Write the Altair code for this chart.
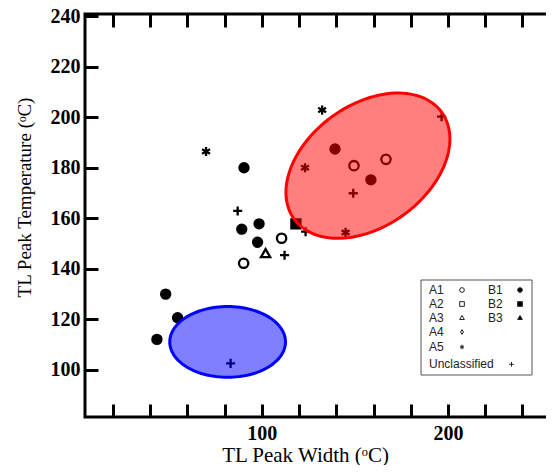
import altair as alt
import pandas as pd
import numpy as np

# ---------------- data ----------------
b1_x = [90.4, 98.5, 89.2, 97.7, 48.3, 54.7, 43.6, 139.3, 158.6]
b1_y = [180.0, 157.8, 155.7, 150.5, 130.0, 120.7, 112.1, 187.4, 175.2]
a1_x = [149.5, 166.7, 110.6, 90.2]
a1_y = [180.8, 183.3, 152.1, 142.2]
a3_x = [102.0]
a3_y = [146.2]
b2_x = [118.3]
b2_y = [157.8]
a5_x = [132.4, 70.0, 123.2, 145.0]
a5_y = [202.8, 186.4, 180.0, 154.4]
un_x = [87.0, 112.2, 123.5, 149.1, 196.6, 83.2]
un_y = [162.9, 145.4, 154.7, 169.9, 200.2, 102.6]

groups = ["A1", "A2", "A3", "A4", "A5", "Unclassified", "B1", "B2", "B3"]

# ellipse regions: centre and two conjugate semi-axis vectors (data units)
red_centre = (157.0, 180.8)
red_u = (39.7, 21.1)
red_v = (-19.1, 19.5)
blue_centre = (81.6, 111.1)
blue_u = (31.1, 0.0)
blue_v = (0.0, 14.0)

x_ticks = list(range(20, 241, 20))
y_ticks = list(range(100, 241, 20))

# ---------------- layout ----------------
XMIN, XMAX, YMIN, YMAX = 4.95, 257.0, 81.4, 240.8
W, H = 469, 403
PL, PT = 77, 6

def px2x(px):
    return XMIN + (px - 85) * (XMAX - XMIN) / W

def py2y(py):
    return YMAX - (py - 14) * (YMAX - YMIN) / H

xs = alt.Scale(domain=[XMIN, XMAX], nice=False, zero=False)
ys = alt.Scale(domain=[YMIN, YMAX], nice=False, zero=False)

shape_map = {
    "A1": "circle", "A2": "square", "A3": "triangle-up",
    "A4": "M0,-1L0.6,0L0,1L-0.6,0Z",
    "A5": "M0,-1L0,1M-0.866,-0.5L0.866,0.5M-0.866,0.5L0.866,-0.5",
    "Unclassified": "M-1,0L1,0M0,-1L0,1",
    "B1": "circle", "B2": "square", "B3": "triangle-up",
}
fill_map = {g: ("black" if g.startswith("B") else "transparent") for g in groups}
size_main = {"A1": 88, "A2": 80, "A3": 150, "A4": 80, "A5": 150,
             "Unclassified": 215, "B1": 112, "B2": 80, "B3": 120}
size_leg = {"A1": 22, "A2": 22, "A3": 30, "A4": 60, "A5": 26,
            "Unclassified": 45, "B1": 30, "B2": 30, "B3": 40}

shape_scale = alt.Scale(domain=groups, range=[shape_map[g] for g in groups])
fill_scale = alt.Scale(domain=groups, range=[fill_map[g] for g in groups])

rows = []
for g, xx, yy in [("B1", b1_x, b1_y), ("A1", a1_x, a1_y), ("A3", a3_x, a3_y),
                  ("B2", b2_x, b2_y), ("A5", a5_x, a5_y), ("Unclassified", un_x, un_y)]:
    for a, b in zip(xx, yy):
        rows.append({"x": a, "y": b, "g": g})
pts_df = pd.DataFrame(rows)

SERIF = "Liberation Serif"

x_axis_bottom = alt.Axis(
    orient="bottom", values=x_ticks, offset=-13, tickSize=13, tickWidth=3,
    tickColor="black", domain=False, grid=False,
    labelExpr="datum.value % 100 === 0 ? datum.label : ''",
    labelFont=SERIF, labelFontWeight=700, labelFontSize=20, labelColor="black",
    labelPadding=6, labelFlush=False,
    title="TL Peak Width (ᵒC)", titleFont=SERIF, titleFontWeight="normal",
    titleFontSize=21, titleColor="black", titleX=220, titleY=57,
    titleBaseline="alphabetic", titleAlign="center", titleAnchor="middle",
)
y_axis_left = alt.Axis(
    orient="left", values=y_ticks, offset=-13, tickSize=13, tickWidth=3,
    tickColor="black", domain=False, grid=False,
    labelFont=SERIF, labelFontWeight=700, labelFontSize=20, labelColor="black",
    labelPadding=5, labelFlush=False,
    title="TL Peak Temperature (ᵒC)", titleFont=SERIF, titleFontWeight="normal",
    titleFontSize=19, titleColor="black", titleAngle=270, titleX=-74, titleY=183,
    titleBaseline="middle", titleAlign="center", titleAnchor="middle",
)
x_axis_top = alt.Axis(
    orient="top", values=x_ticks, offset=-13, tickSize=13, tickWidth=3,
    tickColor="black", domain=False, grid=False, labels=False, title=None,
)
y_axis_right = alt.Axis(
    orient="right", values=y_ticks, offset=-7, tickSize=13, tickWidth=3,
    tickColor="black", domain=False, grid=False, labels=False, title=None,
)

points = alt.Chart(pts_df).mark_point(strokeWidth=2.3, opacity=1, stroke="black").encode(
    x=alt.X("x:Q", scale=xs, axis=x_axis_bottom),
    y=alt.Y("y:Q", scale=ys, axis=y_axis_left),
    shape=alt.Shape("g:N", scale=shape_scale, legend=None),
    fill=alt.Fill("g:N", scale=fill_scale, legend=None),
    size=alt.Size("g:N", scale=alt.Scale(domain=groups, range=[size_main[g] for g in groups]), legend=None),
)


def ellipse_df(c, u, v, n=120):
    t = np.linspace(0, 2 * np.pi, n + 1)
    return pd.DataFrame({
        "x": c[0] + u[0] * np.cos(t) + v[0] * np.sin(t),
        "y": c[1] + u[1] * np.cos(t) + v[1] * np.sin(t),
        "i": np.arange(n + 1),
    })


def ellipse_layer(df, col, with_axes=False):
    return alt.Chart(df).mark_line(
        fill=col, fillOpacity=0.5, stroke=col, strokeWidth=3, interpolate="linear-closed"
    ).encode(
        x=alt.X("x:Q", scale=xs, axis=x_axis_top if with_axes else None),
        y=alt.Y("y:Q", scale=ys, axis=y_axis_right if with_axes else None),
        order="i:Q",
    )

red = ellipse_layer(ellipse_df(red_centre, red_u, red_v), "#ff0000", with_axes=True)
blue = ellipse_layer(ellipse_df(blue_centre, blue_u, blue_v), "#0000ff")

# ---------------- custom legend ----------------
box = alt.Chart(pd.DataFrame({"a": [0]})).mark_rect(
    fill="white", stroke="#555", strokeWidth=1
).encode(
    x=alt.value(421 - 85), x2=alt.value(532 - 85),
    y=alt.value(280 - 14), y2=alt.value(375 - 14),
)

col1 = ["A1", "A2", "A3", "A4", "A5", "Unclassified"]
col2 = ["B1", "B2", "B3"]
row_py = [290, 304, 317.5, 332, 347, 364.3]
leg_rows = []
for i, g in enumerate(col1):
    sx = 511.5 if g == "Unclassified" else 462
    leg_rows.append({"tx": px2x(429), "sx": px2x(sx), "y": py2y(row_py[i]), "g": g})
for i, g in enumerate(col2):
    leg_rows.append({"tx": px2x(488), "sx": px2x(520), "y": py2y(row_py[i]), "g": g})
leg_df = pd.DataFrame(leg_rows)

leg_text = alt.Chart(leg_df).mark_text(
    align="left", baseline="middle", font="Liberation Sans", fontSize=12, color="#222"
).encode(
    x=alt.X("tx:Q", scale=xs, axis=None),
    y=alt.Y("y:Q", scale=ys, axis=None),
    text="g:N",
)
leg_sym = alt.Chart(leg_df).mark_point(strokeWidth=1, opacity=1, stroke="#222").encode(
    x=alt.X("sx:Q", scale=xs, axis=None),
    y=alt.Y("y:Q", scale=ys, axis=None),
    shape=alt.Shape("g:N", scale=shape_scale, legend=None),
    fill=alt.Fill("g:N", scale=fill_scale, legend=None),
    size=alt.Size("g:N", scale=alt.Scale(domain=groups, range=[size_leg[g] for g in groups]), legend=None),
)

chart = alt.layer(points, red, blue, box, leg_text, leg_sym).resolve_axis(
    x="independent", y="independent"
).resolve_scale(size="independent").properties(
    width=W, height=H,
    autosize=alt.AutoSizeParams(type="none"),
    padding={"left": PL, "top": PT, "right": -8, "bottom": 473 - 16 - PT - H},
).configure_view(stroke="black", strokeWidth=3).configure_axis(
    labelFontWeight=700
)

chart.save("out.html", embed_options={"renderer": "svg", "actions": False})
